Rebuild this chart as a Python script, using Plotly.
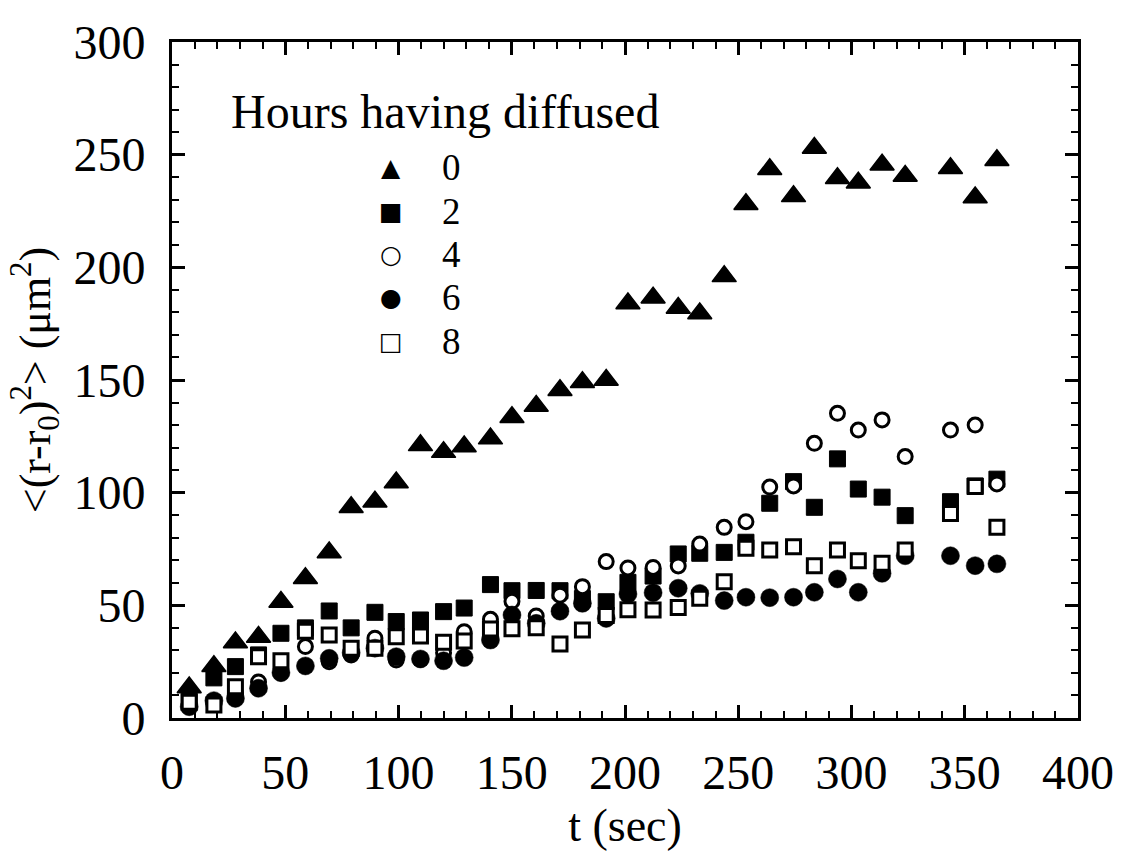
import plotly.graph_objects as go

# ---------------- data ----------------
t_sec = [7.6, 18.5, 28.0, 38.2, 48.1, 58.9, 69.4, 79.1, 89.6, 99.0,
         109.7, 119.9, 129.0, 140.6, 150.1, 160.8, 171.3, 181.2, 191.7, 201.3,
         212.4, 223.5, 233.0, 243.8, 253.4, 263.9, 274.4, 283.6, 293.8, 303.0,
         313.5, 323.7, 343.7, 354.6, 364.2]

hours_0 = [13.5, 23, 33.5, 36, 51.5, 62, 73.5, 93.5, 96, 104.5,
           121, 118, 120.5, 124, 133.5, 138.5, 145.5, 149, 150, 184,
           186.5, 182, 179.5, 196, 228, 243.5, 231.5, 253, 239.5, 237.5,
           245.5, 240.5, 244, 231, 247.5]

hours_2 = [9, 17.8, 22.8, 28, 37.6, 40, 47.5, 40, 46.9, 42.8,
           43.5, 47.2, 48.8, 59.2, 56.5, 56.6, 56.5, 53, 51.6, 60.2,
           63, 72.8, 73.1, 73.5, 78, 95.3, 104.9, 93.5, 115, 101.6,
           98, 89.8, 96, 103, 106]

hours_4 = [5, 6, 11, 16, 20, 31.7, 25, 28, 35.4, 25.7,
           26, 29, 38.3, 43.8, 51.8, 45.3, 54.5, 58.3, 69.4, 66.6,
           66.8, 67.5, 77.2, 84.6, 87.1, 102.5, 103, 121.9, 135.2, 127.8,
           132.3, 116, 127.8, 130, 103.9]

hours_6 = [5, 7.7, 8.7, 13.2, 20.1, 23.1, 26.5, 29, 31, 27.2,
           26.2, 25.4, 26.8, 34.6, 45.7, 42, 47.4, 50.9, 44.2, 55,
           55.6, 57.6, 55.3, 52.1, 53.6, 53.4, 53.6, 55.8, 61.7, 55.8,
           64.2, 72, 72, 67.6, 68.4]

hours_8 = [7.0, 5.8, 13.9, 27.2, 25.4, 38.5, 36.8, 30.9, 30.9, 36.1,
           36.4, 33.6, 34.2, 39.5, 39.6, 40, 32.8, 39, 45.5, 48,
           47.9, 49, 53.1, 60.5, 75.3, 74.6, 76, 67.6, 74.6, 69.8,
           68.7, 74.6, 90.8, 102.7, 84.6]

legend_labels = ["0", "2", "4", "6", "8"]
legend_glyphs = ["\u25B2", "\u25A0", "\u25CB", "\u25CF", "\u25A1"]
legend_title = "Hours having diffused"

x_ticks = [0, 50, 100, 150, 200, 250, 300, 350, 400]
y_ticks = [0, 50, 100, 150, 200, 250, 300]

# ---------------- figure ----------------
SERIF = "Liberation Serif, Times New Roman, serif"

fig = go.Figure()

styles = [
    dict(symbol="triangle-up", size=21, color="black", line=dict(color="black", width=1.5)),
    dict(symbol="square", size=16, color="black", line=dict(color="black", width=1)),
    dict(symbol="circle", size=14, color="white", line=dict(color="black", width=3)),
    dict(symbol="circle", size=18, color="black", line=dict(color="black", width=0.5)),
    dict(symbol="square", size=14, color="white", line=dict(color="black", width=3)),
]
series = [hours_0, hours_2, hours_4, hours_6, hours_8]

for lab, ys, st in zip(legend_labels, series, styles):
    fig.add_trace(go.Scatter(x=t_sec, y=ys, mode="markers", name=lab,
                             marker=st, showlegend=False, cliponaxis=False))

axis_common = dict(
    showline=True, linecolor="black", linewidth=3, mirror="ticks",
    ticks="inside", ticklen=13, tickwidth=2.5, tickcolor="black",
    showgrid=False, zeroline=False,
    tickfont=dict(family=SERIF, size=48, color="black"),
    minor=dict(ticks="inside", ticklen=7, tickwidth=2, tickcolor="black", dtick=10, showgrid=False),
)

fig.update_xaxes(range=[0, 400], tickvals=x_ticks, ticktext=[str(v) for v in x_ticks],
                 ticklabelstandoff=10,
                 title=dict(text="t (sec)", font=dict(family=SERIF, size=46, color="black"), standoff=12),
                 **axis_common)
fig.update_yaxes(range=[0, 300], tickvals=y_ticks, ticktext=[str(v) for v in y_ticks],
                 ticklabelstandoff=14,
                 title=dict(text="<(r-r<sub>0</sub>)<sup>2</sup>> (\u03BCm<sup>2</sup>)",
                            font=dict(family=SERIF, size=44, color="black"), standoff=10),
                 **axis_common)

# legend drawn as text annotations (title + symbol + label)
L, R, T, B = 172, 1086, 42, 718
W, H = R - L, B - T
def px(x):
    return (x - L) / W
def py(y):
    return (B - y) / H

annotations = [dict(text=legend_title, x=px(230), y=py(112), xref="paper", yref="paper",
                    xanchor="left", yanchor="middle", showarrow=False,
                    font=dict(family=SERIF, size=48, color="black"))]
rows = [168, 211.25, 254.5, 297.75, 341]
for g, lab, r in zip(legend_glyphs, legend_labels, rows):
    annotations.append(dict(text=g, x=px(393), y=py(r), xref="paper", yref="paper",
                            xanchor="center", yanchor="middle", showarrow=False,
                            font=dict(family="DejaVu Sans", size=25, color="black")))
    annotations.append(dict(text=lab, x=px(442), y=py(r), xref="paper", yref="paper",
                            xanchor="left", yanchor="middle", showarrow=False,
                            font=dict(family=SERIF, size=37, color="black")))

fig.update_layout(
    width=1126, height=855,
    margin=dict(l=L, r=1126 - R, t=T, b=855 - B),
    paper_bgcolor="white", plot_bgcolor="white",
    showlegend=False,
    annotations=annotations,
)

fig.write_html("out.html")
